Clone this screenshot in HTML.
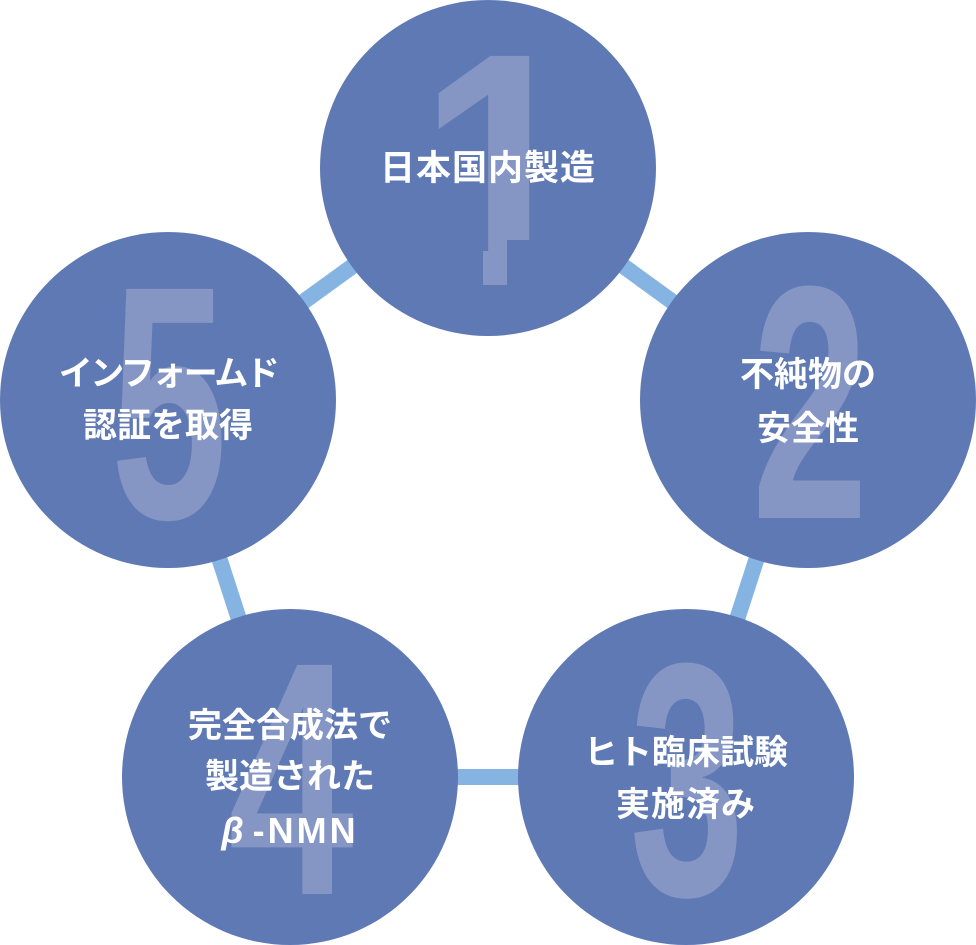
<!DOCTYPE html>
<html>
<head>
<meta charset="utf-8">
<style>
  html, body { margin:0; padding:0; background:#ffffff; }
  body { width:976px; height:945px; position:relative; overflow:hidden; }
  svg { position:absolute; left:0; top:0; }
  .num {
    font-family:"Liberation Sans", Arial, sans-serif;
    font-weight:700;
    font-size:333px;
    fill:#8595c4;
  }
  .t {
    position:absolute;
    width:400px;
    text-align:center;
    color:#ffffff;
    font-family:"Liberation Sans","Noto Sans CJK JP",sans-serif;
    font-weight:700;
    font-size:34px;
    line-height:52px;
    height:52px;
    white-space:nowrap;
  }
</style>
</head>
<body>
<svg width="976" height="945" viewBox="0 0 976 945" xmlns="http://www.w3.org/2000/svg">
  <defs>
    <clipPath id="c1">
      <rect x="0" y="0" width="976" height="240"/>
      <rect x="483" y="240" width="24" height="60"/>
    </clipPath>
  </defs>
  <g stroke="#86b4e2" stroke-width="16" fill="none">
    <line x1="488" y1="168" x2="808" y2="400"/>
    <line x1="808" y1="400" x2="686" y2="777"/>
    <line x1="686" y1="777" x2="290" y2="777"/>
    <line x1="290" y1="777" x2="168" y2="400"/>
    <line x1="168" y1="400" x2="488" y2="168"/>
  </g>
  <g fill="#5f79b4">
    <circle cx="488" cy="168" r="168"/>
    <circle cx="808" cy="400" r="168"/>
    <circle cx="686" cy="777" r="168"/>
    <circle cx="290" cy="777" r="168"/>
    <circle cx="168" cy="400" r="168"/>
  </g>
  <g text-anchor="middle">
    <g clip-path="url(#c1)">
      <text class="num" transform="translate(501.5,285) scale(0.9,1)">1</text>
    </g>
    <text class="num" transform="translate(810,518) scale(0.63,1)">2</text>
    <text class="num" transform="translate(687,895) scale(0.62,1)">3</text>
    <text class="num" transform="translate(291,894) scale(0.68,1)">4</text>
    <text class="num" transform="translate(169,518) scale(0.63,1)">5</text>
  </g>
</svg>

<!-- Circle 1 -->
<div class="t" style="left:288px; top:143px; font-size:35px; letter-spacing:1px;">日本国内製造</div>

<!-- Circle 2 -->
<div class="t" style="left:608px; top:349px;">不純物の</div>
<div class="t" style="left:608px; top:403px;">安全性</div>

<!-- Circle 3 -->
<div class="t" style="left:486px; top:727px;">ヒト臨床試験</div>
<div class="t" style="left:486px; top:779px; letter-spacing:1px;">実施済み</div>

<!-- Circle 4 -->
<div class="t" style="left:90px; top:700px;">完全合成法で</div>
<div class="t" style="left:90px; top:751px;">製造された</div>
<div class="t" style="left:90px; top:805px; font-size:36px;"><span style="font-style:italic; margin-right:9px;">β</span><span style="letter-spacing:3px;">-NMN</span></div>

<!-- Circle 5 -->
<div class="t" style="left:-32px; top:348px; letter-spacing:-2.5px;">インフォームド</div>
<div class="t" style="left:-32px; top:400px;">認証を取得</div>
</body>
</html>
